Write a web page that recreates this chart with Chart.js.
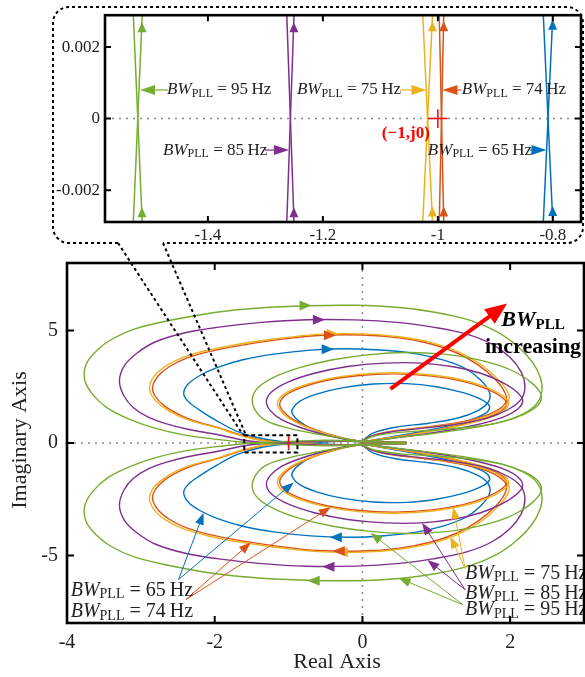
<!DOCTYPE html>
<html>
<head>
<meta charset="utf-8">
<script src="https://cdn.jsdelivr.net/npm/chart.js@4.4.1/dist/chart.umd.min.js"></script>
<style>
body { margin: 0; background: #fff; }
#wrap { position: relative; width: 585px; height: 677px; }
canvas { position: absolute; left: 0; top: 0; }
</style>
</head>
<body>
<div id="wrap">
  <canvas id="main" width="585" height="677"></canvas>
  <canvas id="inset" width="585" height="250"></canvas>
</div>
<script>
// ---- main plot: upper half of each Nyquist curve (lower half is its mirror) ----
const greenOuter = [[-1.52,0],[-1.97,0.16],[-2.4,0.35],[-2.8,0.65],[-3.15,1.05],[-3.45,1.55],[-3.65,2.15],[-3.76,2.8],[-3.74,3.5],[-3.6,4.1],[-3.4,4.6],[-3.1,5.05],[-2.65,5.42],[-2.0,5.8],[-1.4,6.0],[-0.75,6.1],[-0.1,6.12],[0.5,6.02],[1.0,5.8],[1.46,5.45],[1.82,4.95],[2.1,4.3],[2.3,3.6],[2.41,2.9],[2.43,2.3],[2.36,1.75],[2.18,1.3],[1.9,0.95],[1.5,0.72],[1.0,0.58],[0.5,0.47],[0.15,0.3],[0.0,0.08]];
const greenInner = [[0.0,0.06],[-0.25,0.2],[-0.62,0.4],[-1.0,0.66],[-1.3,0.98],[-1.45,1.45],[-1.49,2.0],[-1.4,2.5],[-1.18,2.95],[-0.85,3.35],[-0.4,3.7],[0.1,3.93],[0.6,4.02],[1.1,3.95],[1.5,3.75],[1.85,3.45],[2.1,3.1],[2.3,2.65],[2.42,2.15],[2.38,1.7],[2.2,1.3],[1.9,0.95],[1.45,0.65],[0.95,0.42],[0.5,0.25],[0.2,0.12],[0.0,0.06]];
const greenConn = [[-1.52,0],[-1.2,0.04],[-0.85,0.09],[-0.5,0.12],[-0.2,0.1],[0.0,0.06],[0.3,0.04],[0.6,0.03]];

const purpleOuter = [[-1.257,0],[-1.6,0.12],[-1.97,0.38],[-2.35,0.6],[-2.65,0.85],[-2.9,1.15],[-3.1,1.57],[-3.23,2.1],[-3.29,2.77],[-3.22,3.45],[-3.05,4.0],[-2.8,4.5],[-2.4,4.9],[-1.97,5.14],[-1.4,5.35],[-0.75,5.48],[-0.1,5.47],[0.5,5.35],[0.95,5.15],[1.4,4.85],[1.75,4.4],[2.0,3.8],[2.15,3.15],[2.2,2.5],[2.15,1.95],[1.98,1.5],[1.7,1.12],[1.3,0.85],[0.8,0.65],[0.35,0.48],[0.1,0.28],[0.0,0.08]];
const purpleInner = [[0.0,0.06],[-0.25,0.18],[-0.55,0.4],[-0.85,0.7],[-1.1,1.05],[-1.25,1.45],[-1.3,1.87],[-1.22,2.3],[-1.0,2.72],[-0.65,3.1],[-0.2,3.4],[0.3,3.55],[0.8,3.55],[1.25,3.38],[1.6,3.1],[1.88,2.72],[2.08,2.3],[2.17,1.9],[2.1,1.5],[1.88,1.12],[1.5,0.78],[1.0,0.48],[0.5,0.25],[0.15,0.1],[0.0,0.06]];
const purpleConn = [[-1.257,0],[-0.95,0.04],[-0.65,0.08],[-0.35,0.1],[-0.12,0.08],[0.0,0.06],[0.3,0.04],[0.6,0.03]];

const yellowOuter = [[-1.02,0],[-1.38,0.12],[-1.7,0.38],[-1.97,0.68],[-2.25,0.92],[-2.5,1.22],[-2.72,1.65],[-2.85,2.1],[-2.88,2.55],[-2.8,3.05],[-2.65,3.45],[-2.42,3.82],[-2.1,4.12],[-1.7,4.38],[-1.2,4.62],[-0.6,4.83],[0.0,4.85],[0.5,4.72],[0.95,4.45],[1.3,4.05],[1.6,3.5],[1.83,2.85],[1.97,2.25],[1.97,1.8],[1.82,1.38],[1.55,1.05],[1.15,0.8],[0.7,0.63],[0.3,0.45],[0.08,0.25],[0.0,0.07]];
const yellowInner = [[0.0,0.06],[-0.22,0.18],[-0.48,0.4],[-0.75,0.7],[-0.97,1.05],[-1.1,1.4],[-1.15,1.77],[-1.07,2.15],[-0.85,2.5],[-0.5,2.83],[-0.05,3.05],[0.45,3.12],[0.95,3.02],[1.38,2.78],[1.7,2.45],[1.9,2.1],[1.98,1.78],[1.9,1.4],[1.65,1.05],[1.25,0.72],[0.8,0.45],[0.35,0.22],[0.0,0.06]];
const yellowConn = [[-1.02,0],[-0.8,0.04],[-0.55,0.07],[-0.3,0.09],[-0.1,0.07],[0.0,0.06],[0.3,0.04],[0.6,0.03]];

const redOuter = [[-0.992,0],[-1.35,0.12],[-1.67,0.38],[-1.95,0.68],[-2.22,0.93],[-2.46,1.23],[-2.68,1.65],[-2.81,2.1],[-2.84,2.52],[-2.76,3.0],[-2.61,3.4],[-2.38,3.77],[-2.06,4.07],[-1.67,4.33],[-1.18,4.57],[-0.6,4.78],[0.0,4.8],[0.5,4.67],[0.93,4.4],[1.28,4.0],[1.57,3.46],[1.8,2.82],[1.93,2.23],[1.94,1.8],[1.79,1.39],[1.52,1.07],[1.13,0.82],[0.7,0.65],[0.3,0.47],[0.08,0.26],[0.0,0.07]];
const redInner = [[0.0,0.06],[-0.21,0.18],[-0.46,0.4],[-0.73,0.7],[-0.94,1.05],[-1.07,1.4],[-1.12,1.74],[-1.04,2.12],[-0.82,2.47],[-0.48,2.79],[-0.04,3.0],[0.45,3.07],[0.94,2.97],[1.36,2.74],[1.67,2.42],[1.87,2.08],[1.95,1.77],[1.87,1.4],[1.62,1.06],[1.23,0.74],[0.79,0.46],[0.35,0.22],[0.0,0.06]];
const redConn = [[-0.992,0],[-0.78,0.04],[-0.54,0.07],[-0.3,0.09],[-0.1,0.07],[0.0,0.06],[0.3,0.04],[0.6,0.03]];

const blueOuter = [[-0.81,0],[-1.1,0.07],[-1.4,0.22],[-1.7,0.52],[-1.97,0.98],[-2.2,1.45],[-2.36,1.85],[-2.42,2.2],[-2.36,2.62],[-2.2,3.0],[-1.97,3.35],[-1.62,3.7],[-1.2,3.95],[-0.7,4.13],[-0.2,4.19],[0.3,4.12],[0.73,3.96],[1.1,3.68],[1.4,3.3],[1.6,2.8],[1.72,2.25],[1.7,1.8],[1.55,1.42],[1.28,1.1],[0.9,0.88],[0.45,0.7],[0.15,0.45],[0.0,0.1]];
const blueInner = [[0.0,0.05],[-0.2,0.16],[-0.45,0.35],[-0.68,0.62],[-0.85,0.95],[-0.94,1.25],[-0.95,1.5],[-0.85,1.85],[-0.62,2.17],[-0.28,2.45],[0.15,2.62],[0.6,2.64],[1.0,2.5],[1.35,2.25],[1.6,1.95],[1.72,1.65],[1.68,1.35],[1.48,1.05],[1.15,0.75],[0.75,0.48],[0.35,0.25],[0.0,0.05]];
const blueConn = [[-0.81,0],[-0.6,0.03],[-0.4,0.06],[-0.2,0.07],[0.0,0.05],[0.3,0.04],[0.6,0.03]];

// direction arrows on the curves: x, y, screen angle (deg)
const greenArrows = [[-0.77, 6.11, 0], [-0.66, -6.12, 180]];
const purpleArrows = [[-0.59, 5.48, 0], [-0.46, -5.5, 180]];
const yellowArrows = [[-0.40, 4.85, 0], [-0.28, -4.85, 180]];
const redArrows = [[-0.44, 4.79, 0], [-0.32, -4.80, 180]];
const blueArrows = [[-0.47, 4.17, 0], [-0.36, -4.19, 180]];

// label callouts: start point, then arrow tips
const greenNote = [[1.36, -7.19], [0.11, -4.0], [0.49, -6.0]];
const purpleNote = [[1.39, -6.52], [0.81, -3.55], [0.88, -5.2]];
const yellowNote = [[1.39, -5.58], [1.23, -2.85], [1.19, -4.15]];
const redNote = [[-2.39, -6.96], [-1.51, -4.42], [-0.43, -2.85]];
const blueNote = [[-2.49, -6.07], [-2.15, -3.1], [-0.93, -1.75]];
const mainLabels = [['65', -3.95, -6.55], ['74', -3.95, -7.5], ['75', 1.39, -5.79], ['85', 1.39, -6.68], ['95', 1.39, -7.43]];
const trendArrow = [[0.38, 2.41], [1.96, 6.2]];
const trendText = [2.31, 5.45, 4.24];
const zoomBox = [-1.6, -0.88, -0.42, 0.34];

const mainXTicks = [-4, -2, 0, 2];
const mainYTicks = [-5, 0, 5];

// ---- inset: the two branches of each curve crossing the real axis ----
const insetGreen = [[[-1.530, 0.003], [-1.514, -0.003]], [[-1.514, 0.003], [-1.530, -0.003]]];
const insetPurple = [[[-1.263, 0.003], [-1.250, -0.003]], [[-1.250, 0.003], [-1.263, -0.003]]];
const insetYellow = [[[-1.0266, 0.003], [-1.009, -0.003]], [[-1.009, 0.003], [-1.0266, -0.003]]];
const insetRed = [[[-0.9977, 0.003], [-0.9896, -0.003]], [[-0.9896, 0.003], [-0.9977, -0.003]]];
const insetBlue = [[[-0.8169, 0.003], [-0.7998, -0.003]], [[-0.7998, 0.003], [-0.8169, -0.003]]];
const insetGreenArrows = [[-1.5147, 0.00255], [-1.5147, -0.00262]];
const insetPurpleArrows = [[-1.2505, 0.00255], [-1.2505, -0.00262]];
const insetYellowArrows = [[-1.0095, 0.00258], [-1.0095, -0.00260]];
const insetRedArrows = [[-0.9898, 0.00258], [-0.9898, -0.00260]];
const insetBlueArrows = [[-0.8003, 0.00262], [-0.8003, -0.00258]];
const insetGreenNote = [[-1.4696, 0.0008], [-1.518, 0.0008]];
const insetPurpleNote = [[-1.3009, -0.00088], [-1.259, -0.00088]];
const insetYellowNote = [[-1.066, 0.0008], [-1.0197, 0.0008]];
const insetRedNote = [[-0.9588, 0.0008], [-0.992, 0.0008]];
const insetBlueNote = [[-0.84, -0.00088], [-0.811, -0.00088]];
const insetLabels = [['95', -1.471, 0.0008], ['85', -1.478, -0.00088], ['75', -1.2452, 0.0008], ['74', -0.9583, 0.0008], ['65', -1.0174, -0.00088]];
const criticalPoint = [-1, 0];
const criticalText = [-1.0557, -0.00041];

const insetXTicks = [-1.4, -1.2, -1, -0.8];
const insetYTicks = [-0.002, 0, 0.002];

// ---- styling ----
const F = "'Liberation Serif', 'Times New Roman', serif";
const GREEN = '#77AC30', PURPLE = '#7E2F8E', YELLOW = '#EDB120', RED = '#D95319', BLUE = '#0072BD';
const bubble = { left: 53, top: 7, right: 583, bottom: 243, r: 16, gapL: 118, gapR: 163 };

const series = [
  { c: GREEN, parts: [greenOuter, greenInner, greenConn], arrows: greenArrows, note: greenNote },
  { c: PURPLE, parts: [purpleOuter, purpleInner, purpleConn], arrows: purpleArrows, note: purpleNote },
  { c: YELLOW, parts: [yellowOuter, yellowInner, yellowConn], arrows: yellowArrows, note: yellowNote },
  { c: RED, parts: [redOuter, redInner, redConn], arrows: redArrows, note: redNote },
  { c: BLUE, parts: [blueOuter, blueInner, blueConn], arrows: blueArrows, note: blueNote }
];
const insetSeries = [
  { c: GREEN, lines: insetGreen, arrows: insetGreenArrows, note: insetGreenNote },
  { c: PURPLE, lines: insetPurple, arrows: insetPurpleArrows, note: insetPurpleNote },
  { c: YELLOW, lines: insetYellow, arrows: insetYellowArrows, note: insetYellowNote },
  { c: RED, lines: insetRed, arrows: insetRedArrows, note: insetRedNote },
  { c: BLUE, lines: insetBlue, arrows: insetBlueArrows, note: insetBlueNote }
];

function line(data, color, w) {
  return { data: data, borderColor: color, borderWidth: w || 1.4, showLine: true,
           pointRadius: 0, pointHoverRadius: 0, tension: 0.35, fill: false };
}
const toXY = p => ({ x: p[0], y: p[1] });
const flip = p => ({ x: p[0], y: -p[1] });

function head(ctx, x, y, ang, len, half, color) {
  ctx.save();
  ctx.fillStyle = color;
  ctx.translate(x, y);
  ctx.rotate(ang);
  ctx.beginPath();
  ctx.moveTo(0, 0);
  ctx.lineTo(-len, -half);
  ctx.lineTo(-len, half);
  ctx.closePath();
  ctx.fill();
  ctx.restore();
}

// line with arrowhead from (x0,y0) to (x1,y1), pixels
function pointer(ctx, x0, y0, x1, y1, color, len, half, lw) {
  const a = Math.atan2(y1 - y0, x1 - x0);
  ctx.save();
  ctx.strokeStyle = color;
  ctx.lineWidth = lw;
  ctx.setLineDash([]);
  ctx.beginPath();
  ctx.moveTo(x0, y0);
  ctx.lineTo(x1 - Math.cos(a) * len * 0.8, y1 - Math.sin(a) * len * 0.8);
  ctx.stroke();
  ctx.restore();
  head(ctx, x1, y1, a, len, half, color);
}

function drawBW(ctx, x, y, val, size) {
  ctx.save();
  ctx.fillStyle = '#222';
  ctx.textBaseline = 'middle';
  ctx.textAlign = 'left';
  const parts = [
    ['italic ' + size + 'px ' + F, 'BW', 0],
    [Math.round(size * 0.72) + 'px ' + F, 'PLL', size * 0.22],
    [size + 'px ' + F, ' = ' + val + '\u2009Hz', 0]
  ];
  let cx = x;
  parts.forEach(p => {
    ctx.font = p[0];
    ctx.fillText(p[1], cx, y + p[2]);
    cx += ctx.measureText(p[1]).width;
  });
  ctx.restore();
}

function frame(chart, xt, yt, len) {
  const { ctx, chartArea: a, scales: { x, y } } = chart;
  ctx.save();
  ctx.setLineDash([]);
  ctx.strokeStyle = '#000';
  ctx.lineWidth = 2;
  ctx.beginPath();
  xt.forEach(v => {
    const px = x.getPixelForValue(v);
    ctx.moveTo(px, a.bottom); ctx.lineTo(px, a.bottom - len);
    ctx.moveTo(px, a.top); ctx.lineTo(px, a.top + len);
  });
  yt.forEach(v => {
    const py = y.getPixelForValue(v);
    ctx.moveTo(a.left, py); ctx.lineTo(a.left + len, py);
    ctx.moveTo(a.right, py); ctx.lineTo(a.right - len, py);
  });
  ctx.stroke();
  ctx.lineWidth = 2.6;
  ctx.strokeRect(a.left, a.top, a.right - a.left, a.bottom - a.top);
  ctx.restore();
}

function zeroLines(chart, vertical) {
  const { ctx, chartArea: a, scales: { x, y } } = chart;
  ctx.save();
  ctx.strokeStyle = '#8c8c8c';
  ctx.lineWidth = 1.5;
  ctx.setLineDash([2, 5]);
  ctx.beginPath();
  const py = y.getPixelForValue(0);
  ctx.moveTo(a.left, py); ctx.lineTo(a.right, py);
  if (vertical) {
    const px = x.getPixelForValue(0);
    ctx.moveTo(px, a.top); ctx.lineTo(px, a.bottom);
  }
  ctx.stroke();
  ctx.restore();
}

const mainDeco = {
  id: 'mainDeco',
  beforeDatasetsDraw(chart) { zeroLines(chart, true); },
  afterDatasetsDraw(chart) {
    const { ctx, scales: { x, y } } = chart;
    const X = v => x.getPixelForValue(v), Y = v => y.getPixelForValue(v);
    // arrows on curves
    series.forEach(s => s.arrows.forEach(p => {
      const a = p[2] * Math.PI / 180;
      head(ctx, X(p[0]) + Math.cos(a) * 6, Y(p[1]) + Math.sin(a) * 6, a, 12, 5, s.c);
    }));
    // dashed zoom box, connectors and critical point
    ctx.save();
    ctx.strokeStyle = '#000';
    ctx.lineWidth = 2;
    ctx.setLineDash([4, 3]);
    ctx.strokeRect(X(zoomBox[0]), Y(zoomBox[3]), X(zoomBox[1]) - X(zoomBox[0]), Y(zoomBox[2]) - Y(zoomBox[3]));
    ctx.setLineDash([3, 3]);
    ctx.beginPath();
    ctx.moveTo(bubble.gapL, bubble.bottom); ctx.lineTo(X(zoomBox[0] - 0.02), Y(zoomBox[3] + 0.04));
    ctx.moveTo(bubble.gapR, bubble.bottom); ctx.lineTo(X(zoomBox[0] + 0.03), Y(zoomBox[3] - 0.04));
    ctx.stroke();
    ctx.setLineDash([]);
    ctx.strokeStyle = '#ff0000';
    ctx.lineWidth = 1.5;
    ctx.beginPath();
    ctx.moveTo(X(criticalPoint[0]), Y(0.3)); ctx.lineTo(X(criticalPoint[0]), Y(-0.32));
    ctx.stroke();
    ctx.restore();
    // callouts
    series.forEach(s => {
      const st = s.note[0];
      s.note.slice(1).forEach(t => pointer(ctx, X(st[0]), Y(st[1]), X(t[0]), Y(t[1]), s.c, 12, 4.5, 1));
    });
    mainLabels.forEach(l => drawBW(ctx, X(l[1]), Y(l[2]), l[0], 20));
    // trend arrow
    pointer(ctx, X(trendArrow[0][0]), Y(trendArrow[0][1]), X(trendArrow[1][0]), Y(trendArrow[1][1]), '#ff0000', 22, 9, 4);
    ctx.save();
    ctx.fillStyle = '#000';
    ctx.textBaseline = 'middle';
    ctx.textAlign = 'left';
    ctx.font = 'bold italic 22px ' + F;
    const w1 = ctx.measureText('BW').width;
    ctx.font = 'bold 15px ' + F;
    const w2 = ctx.measureText('PLL').width;
    let cx = X(trendText[0]) - (w1 + w2) / 2;
    ctx.font = 'bold italic 22px ' + F;
    ctx.fillText('BW', cx, Y(trendText[1]));
    ctx.font = 'bold 15px ' + F;
    ctx.fillText('PLL', cx + w1, Y(trendText[1]) + 5);
    ctx.font = 'bold 22px ' + F;
    ctx.textAlign = 'center';
    ctx.fillText('increasing', X(trendText[0]), Y(trendText[2]));
    // axis titles
    ctx.fillStyle = '#222';
    ctx.font = '22px ' + F;
    ctx.fillText('Real Axis', 337, 662);
    ctx.translate(20, 440);
    ctx.rotate(-Math.PI / 2);
    ctx.fillText('Imaginary Axis', 0, 0);
    ctx.restore();
    frame(chart, mainXTicks, mainYTicks, 7);
  }
};

const insetDeco = {
  id: 'insetDeco',
  beforeDatasetsDraw(chart) { zeroLines(chart, false); },
  afterDatasetsDraw(chart) {
    const { ctx, scales: { x, y } } = chart;
    const X = v => x.getPixelForValue(v), Y = v => y.getPixelForValue(v);
    insetSeries.forEach(s => {
      s.arrows.forEach(p => head(ctx, X(p[0]), Y(p[1]) - 5, -Math.PI / 2, 10, 4.5, s.c));
      pointer(ctx, X(s.note[0][0]), Y(s.note[0][1]), X(s.note[1][0]), Y(s.note[1][1]), s.c, 15, 5, 1.2);
    });
    insetLabels.forEach(l => drawBW(ctx, X(l[1]), Y(l[2]), l[0], 17));
    ctx.save();
    ctx.strokeStyle = '#ff0000';
    ctx.lineWidth = 1.5;
    ctx.beginPath();
    ctx.moveTo(X(criticalPoint[0] - 0.017), Y(0)); ctx.lineTo(X(criticalPoint[0] + 0.017), Y(0));
    ctx.moveTo(X(criticalPoint[0]), Y(0.00026)); ctx.lineTo(X(criticalPoint[0]), Y(-0.00026));
    ctx.stroke();
    ctx.fillStyle = '#ff0000';
    ctx.font = 'bold 17px ' + F;
    ctx.textAlign = 'center';
    ctx.textBaseline = 'middle';
    ctx.fillText('(\u22121,j0)', X(criticalText[0]), Y(criticalText[1]));
    ctx.restore();
    frame(chart, insetXTicks, insetYTicks, 6);
  },
  afterDraw(chart) {
    const ctx = chart.ctx, b = bubble;
    ctx.save();
    ctx.strokeStyle = '#000';
    ctx.lineWidth = 2;
    ctx.setLineDash([3, 3]);
    ctx.beginPath();
    ctx.moveTo(b.gapL, b.bottom);
    ctx.lineTo(b.left + b.r, b.bottom);
    ctx.arcTo(b.left, b.bottom, b.left, b.bottom - b.r, b.r);
    ctx.lineTo(b.left, b.top + b.r);
    ctx.arcTo(b.left, b.top, b.left + b.r, b.top, b.r);
    ctx.lineTo(b.right - b.r, b.top);
    ctx.arcTo(b.right, b.top, b.right, b.top + b.r, b.r);
    ctx.lineTo(b.right, b.bottom - b.r);
    ctx.arcTo(b.right, b.bottom, b.right - b.r, b.bottom, b.r);
    ctx.lineTo(b.gapR, b.bottom);
    ctx.stroke();
    ctx.restore();
  }
};

function axis(min, max, ticks, size, pad, fit, isX) {
  return {
    type: 'linear', min: min, max: max,
    afterBuildTicks: s => { s.ticks = ticks.map(v => ({ value: v })); },
    afterFit: s => { if (isX) s.height = fit; else s.width = fit; },
    grid: { display: false, drawTicks: false },
    border: { display: false },
    ticks: { color: '#222', font: { family: F, size: size }, padding: pad, maxRotation: 0, autoSkip: false,
             callback: v => String(v) }
  };
}

const mainSets = [];
series.forEach(s => s.parts.forEach(p => {
  mainSets.push(line(p.map(toXY), s.c));
  mainSets.push(line(p.map(flip), s.c));
}));

new Chart(document.getElementById('main'), {
  type: 'scatter',
  data: { datasets: mainSets },
  options: {
    responsive: false, animation: false, devicePixelRatio: 1,
    layout: { padding: { top: 263, right: 1, left: 0, bottom: 0 } },
    plugins: { legend: { display: false }, tooltip: { enabled: false } },
    scales: {
      x: axis(-4, 3, mainXTicks, 20, 8, 54, true),
      y: axis(-8, 8, mainYTicks, 20, 9, 67, false)
    }
  },
  plugins: [mainDeco]
});

const insetSets = [];
insetSeries.forEach(s => s.lines.forEach(l => insetSets.push(line(l.map(toXY), s.c, 1.5))));

new Chart(document.getElementById('inset'), {
  type: 'scatter',
  data: { datasets: insetSets },
  options: {
    responsive: false, animation: false, devicePixelRatio: 1,
    layout: { padding: { top: 12, right: 4, left: 0, bottom: 0 } },
    plugins: { legend: { display: false }, tooltip: { enabled: false } },
    scales: {
      x: axis(-1.579, -0.751, insetXTicks, 17, 3, 28, true),
      y: axis(-0.00289, 0.00289, insetYTicks, 17, 5, 105, false)
    }
  },
  plugins: [insetDeco]
});
</script>
</body>
</html>
